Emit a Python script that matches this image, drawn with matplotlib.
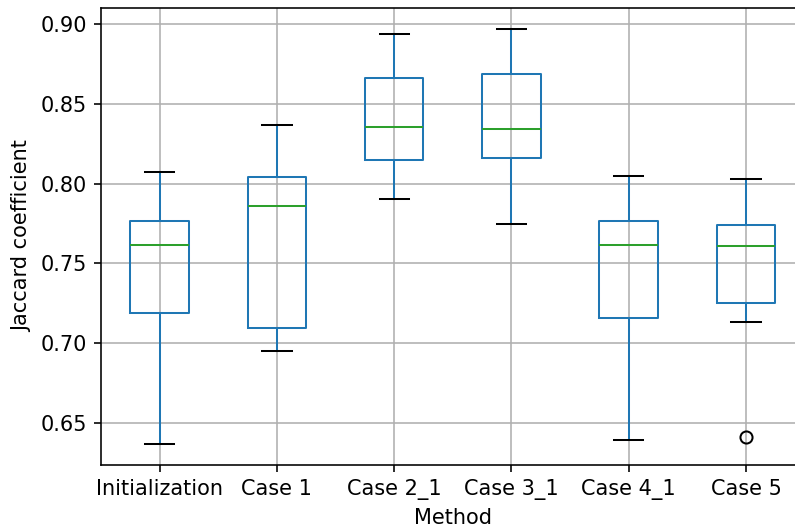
import matplotlib.pyplot as plt

methods = ['Initialization', 'Case 1', 'Case 2_1', 'Case 3_1', 'Case 4_1', 'Case 5']
whislo = [0.6368, 0.6950, 0.7903, 0.7747, 0.6393, 0.7133]
q1 = [0.7190, 0.7095, 0.8148, 0.8160, 0.7158, 0.7252]
med = [0.7615, 0.7860, 0.8355, 0.8342, 0.7615, 0.7610]
q3 = [0.7766, 0.8041, 0.8662, 0.8687, 0.7766, 0.7740]
whishi = [0.8073, 0.8367, 0.8937, 0.8969, 0.8048, 0.8029]
outliers = [[], [], [], [], [], [0.6412]]

stats = []
for i, m in enumerate(methods):
    stats.append({'label': m, 'whislo': whislo[i], 'q1': q1[i], 'med': med[i],
                  'q3': q3[i], 'whishi': whishi[i], 'fliers': outliers[i]})

s = 1.45  # original was drawn larger and scaled down
plt.rcParams.update({
    'font.size': 15,
    'lines.linewidth': 1.0 * s,
    'axes.linewidth': 0.8 * s,
    'grid.linewidth': 0.8 * s,
    'xtick.major.size': 3.5 * s, 'ytick.major.size': 3.5 * s,
    'xtick.major.width': 0.8 * s, 'ytick.major.width': 0.8 * s,
    'xtick.major.pad': 3.5 * s, 'ytick.major.pad': 3.5 * s,
    'axes.labelpad': 4.0 * s,
})
fig = plt.figure(figsize=(7.95, 5.28), dpi=100)
ax = fig.add_axes([101 / 795, 63 / 528, 703.6 / 795, 457 / 528])
lw = 1.0 * s
ax.bxp(stats, widths=0.5,
       boxprops=dict(color='#1f77b4', linewidth=lw),
       whiskerprops=dict(color='#1f77b4', linewidth=lw),
       medianprops=dict(color='#2ca02c', linewidth=lw),
       capprops=dict(color='black', linewidth=lw),
       flierprops=dict(marker='o', markerfacecolor='none', markeredgecolor='black',
                       markersize=6 * s, markeredgewidth=lw))
ax.set_xlim(0.5, 6.5)
ax.set_ylim(0.6237, 0.9101)
ax.set_yticks([0.65, 0.70, 0.75, 0.80, 0.85, 0.90])
ax.set_yticklabels(['0.65', '0.70', '0.75', '0.80', '0.85', '0.90'])
ax.grid(True, color='#b0b0b0')
ax.set_axisbelow(True)
ax.set_xlabel('Method')
ax.set_ylabel('Jaccard coefficient')
fig.savefig('out.png', dpi=100)
